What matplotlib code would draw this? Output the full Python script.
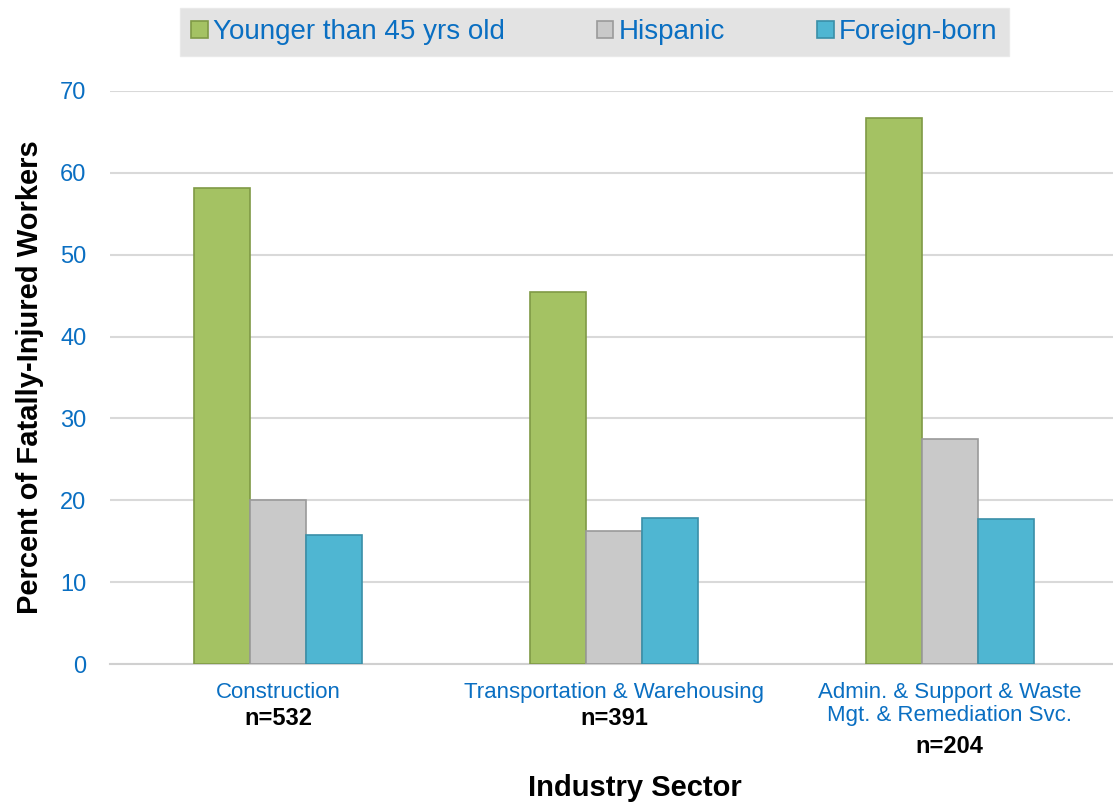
import matplotlib.pyplot as plt
import numpy as np

plt.rcParams['font.family'] = ['Liberation Sans', 'DejaVu Sans']

# data
sectors = ['Construction', 'Transportation & Warehousing',
           'Admin. & Support & Waste\nMgt. & Remediation Svc.']
n_labels = ['n=532', 'n=391', 'n=204']
n_lines = [1, 1, 2]
series = ['Younger than 45 yrs old', 'Hispanic', 'Foreign-born']
younger = [58.1, 45.5, 66.7]
hispanic = [20.0, 16.2, 27.5]
foreign = [15.8, 17.9, 17.7]

faces = ['#A4C263', '#C9C9C9', '#4FB6D2']
edges = ['#7F9A45', '#9A9A9A', '#3A8FA8']
blue = '#0A6FC2'

fig = plt.figure(figsize=(11.13, 8.05), dpi=100)
ax = fig.add_axes([0.099, 0.175, 0.905, 0.712])

x = np.arange(len(sectors))
w = 1 / 6
for k, vals in enumerate([younger, hispanic, foreign]):
    ax.bar(x + (k - 1) * w, vals, width=w, color=faces[k], edgecolor=edges[k],
           linewidth=1.2, label=series[k], zorder=3)

ax.set_xlim(-0.5, 2.5)
ax.set_ylim(0, 70)
ax.set_yticks(range(0, 71, 10))
ax.yaxis.grid(True, color='#D9D9D9', linewidth=1.5, zorder=0)
ax.tick_params(axis='y', length=0, pad=17, labelsize=17, labelcolor=blue)
ax.tick_params(axis='x', length=0, pad=13, labelsize=16, labelcolor=blue)
ax.set_xticks(x)
ax.set_xticklabels(sectors, linespacing=1.1)
for s in ['top', 'right', 'left']:
    ax.spines[s].set_visible(False)
ax.spines['bottom'].set_color('#D0D0D0')
ax.spines['bottom'].set_linewidth(1.5)

for i, lab in enumerate(n_labels):
    off = -39 if n_lines[i] == 1 else -59
    ax.annotate(lab, xy=(i, 0), xytext=(0, off), textcoords='offset points',
                ha='center', va='center', fontsize=17, fontweight='bold',
                annotation_clip=False)

ax.set_ylabel('Percent of Fatally-Injured Workers', fontsize=21,
              fontweight='bold', labelpad=12)
fig.text(0.57, 0.021, 'Industry Sector', ha='center', va='center',
         fontsize=21, fontweight='bold')

leg = fig.legend(loc='upper center', bbox_to_anchor=(0.534, 0.99), ncol=3,
                 fontsize=20, frameon=True, fancybox=False, handlelength=0.6,
                 handleheight=0.6, handletextpad=0.2, columnspacing=3.3,
                 borderpad=0.4, borderaxespad=0)
leg.get_frame().set_facecolor('#DDDDDD')
leg.get_frame().set_edgecolor('#E8E8E8')
for t in leg.get_texts():
    t.set_color(blue)

fig.savefig('out.png', dpi=100)
